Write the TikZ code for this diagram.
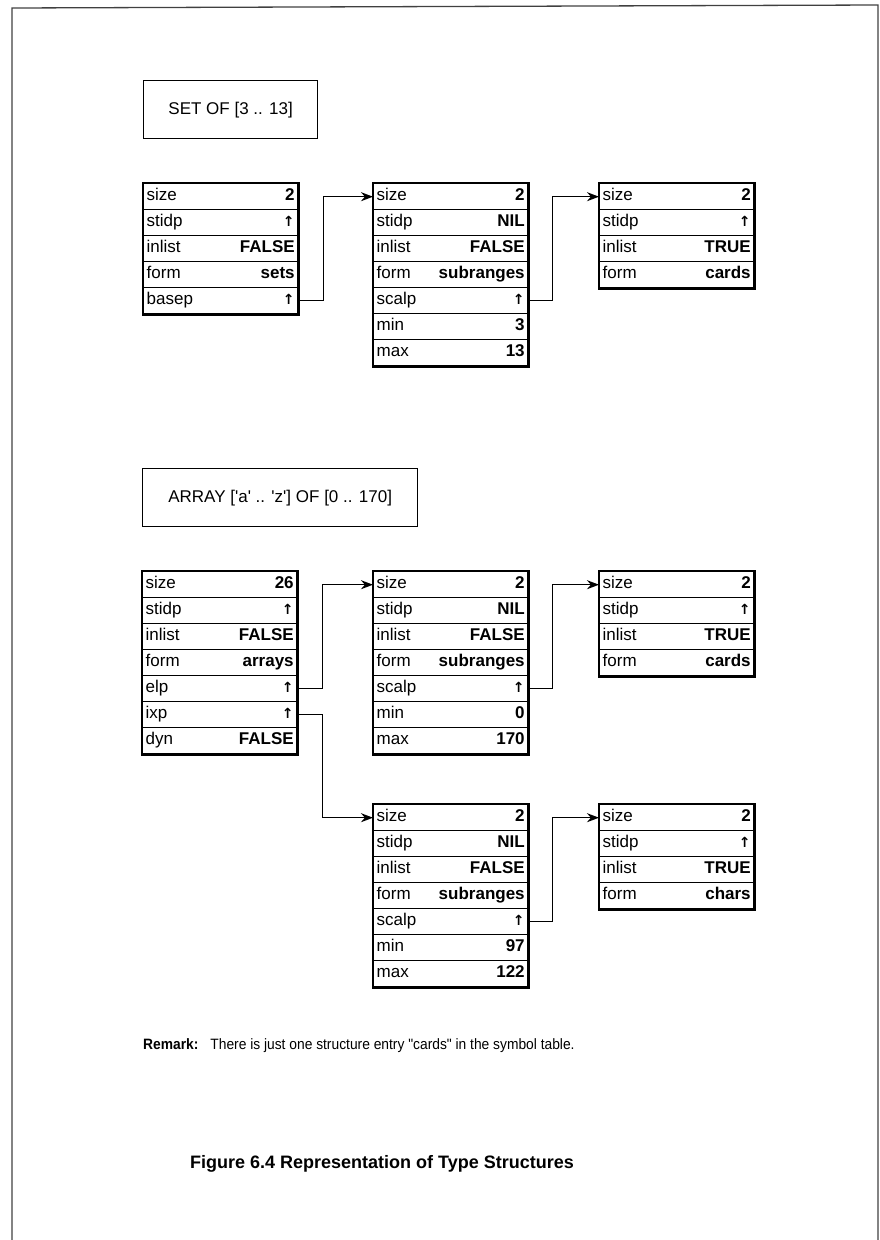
\documentclass[tikz,border=0pt]{standalone}
\usepackage{fontspec}
\setmainfont{Liberation Sans}
\newfontfamily\arrowfont{DejaVu Sans}
\newfontfamily\narrowfont{Liberation Sans}[FakeStretch=0.92]
\usetikzlibrary{arrows.meta,positioning}

\newcommand{\ptr}{{\arrowfont\bfseries\fontsize{14}{14}\selectfont ↑}}
% one record: name, x, y, fields, number of fields
\newcommand{\record}[5]{%
  \foreach [count=\i] \k/\v in {#4}
    \node[field] (#1-\i) at (#2, {#3+26*(\i-1)}) {\k\hfill\textbf{\v}};
  \draw[outline] (#1-1.north west) rectangle (#1-#5.south east);
}

\tikzset{
  field/.style={draw, line width=1.4pt, minimum width=154pt, minimum height=26pt,
    text width=148pt, inner xsep=2pt, inner ysep=0pt, text height=12pt, text depth=4pt,
    anchor=north west, font=\fontsize{17}{19}\selectfont},
  outline/.style={line width=2.4pt},
  typebox/.style={draw, line width=1.3pt, minimum height=58pt, anchor=north west,
    font=\fontsize{17}{19}\selectfont},
  link/.style={line width=1.3pt, -{Stealth[length=12pt,width=9pt]}},
  frame/.style={line width=1.3pt, black!75}
}

\begin{document}
\begin{tikzpicture}[x=1pt, y=-1pt]
  \useasboundingbox (0,0) rectangle (880,1240);
  \draw[frame] (12,1240) -- (12,8) -- (878,5) -- (878,1240);

  % SET OF
  \node[typebox, minimum width=174pt] (settype) at (143,80) {SET OF [3 .. 13]};
  \record{setrec}{143}{183}{size/2, stidp/\ptr, inlist/FALSE, form/sets, basep/\ptr}{5}
  \record{setsub}{373}{183}{size/2, stidp/NIL, inlist/FALSE, form/subranges, scalp/\ptr, min/3, max/13}{7}
  \record{setcard}{599}{183}{size/2, stidp/\ptr, inlist/TRUE, form/cards}{4}
  \draw[link] (setrec-5.east) -- ++(25,0) |- (setsub-1.west);
  \draw[link] (setsub-5.east) -- ++(24,0) |- (setcard-1.west);

  % ARRAY
  \node[typebox, minimum width=275pt] (arrtype) at (142,468)
    {ARRAY [\textquotesingle a\textquotesingle{} .. \textquotesingle z\textquotesingle] OF [0 .. 170]};
  \record{arrrec}{142}{571}{size/26, stidp/\ptr, inlist/FALSE, form/arrays, elp/\ptr, ixp/\ptr, dyn/FALSE}{7}
  \record{elsub}{373}{571}{size/2, stidp/NIL, inlist/FALSE, form/subranges, scalp/\ptr, min/0, max/170}{7}
  \record{elcard}{599}{571}{size/2, stidp/\ptr, inlist/TRUE, form/cards}{4}
  \record{ixsub}{373}{804}{size/2, stidp/NIL, inlist/FALSE, form/subranges, scalp/\ptr, min/97, max/122}{7}
  \record{ixchar}{599}{804}{size/2, stidp/\ptr, inlist/TRUE, form/chars}{4}
  \draw[link] (arrrec-5.east) -- ++(25,0) |- (elsub-1.west);
  \draw[link] (arrrec-6.east) -- ++(25,0) |- (ixsub-1.west);
  \draw[link] (elsub-5.east) -- ++(24,0) |- (elcard-1.west);
  \draw[link] (ixsub-5.east) -- ++(24,0) |- (ixchar-1.west);

  \node[anchor=west, inner sep=0pt, font=\narrowfont\fontsize{15}{18}\selectfont] (remark) at (143,1046)
    {\textbf{Remark:}\hspace{12pt}There is just one structure entry "cards" in the symbol table.};
  \node[font=\bfseries\fontsize{18}{21}\selectfont] (caption) at (382,1164)
    {Figure 6.4 Representation of Type Structures};
\end{tikzpicture}
\end{document}
